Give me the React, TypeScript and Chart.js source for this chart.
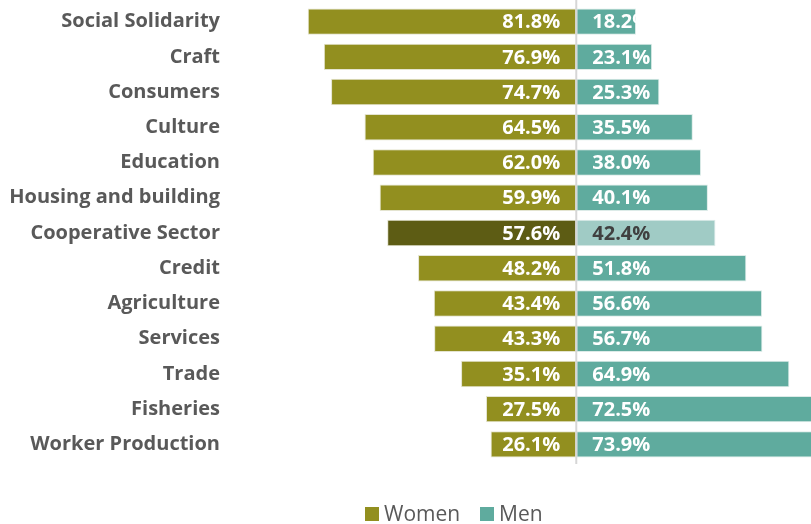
import React, { useEffect, useRef } from "react";
import { Chart, registerables } from "chart.js";

Chart.register(...registerables);

const categories = [
  "Social Solidarity",
  "Craft",
  "Consumers",
  "Culture",
  "Education",
  "Housing and building",
  "Cooperative Sector",
  "Credit",
  "Agriculture",
  "Services",
  "Trade",
  "Fisheries",
  "Worker Production",
];
const women = [81.8, 76.9, 74.7, 64.5, 62.0, 59.9, 57.6, 48.2, 43.4, 43.3, 35.1, 27.5, 26.1];
const men = [18.2, 23.1, 25.3, 35.5, 38.0, 40.1, 42.4, 51.8, 56.6, 56.7, 64.9, 72.5, 73.9];
const highlight = "Cooperative Sector";

const OLIVE = "#928F1F";
const OLIVE_DARK = "#5D5C14";
const TEAL = "#5FAB9E";
const TEAL_LIGHT = "#A0CBC5";
const LABEL_FONT = "'Open Sans', sans-serif";

const labelsPlugin = {
  id: "valueLabels",
  afterDatasetsDraw(chart: any) {
    const ctx = chart.ctx;
    const xs = chart.scales.x;
    const zero = xs.getPixelForValue(0);
    // center line
    ctx.save();
    ctx.strokeStyle = "#D6D6D6";
    ctx.lineWidth = 2;
    ctx.beginPath();
    ctx.moveTo(zero, 0);
    ctx.lineTo(zero, chart.chartArea.bottom + 2);
    ctx.stroke();
    ctx.restore();

    chart.data.datasets.forEach((ds: any, di: number) => {
      const meta = chart.getDatasetMeta(di);
      meta.data.forEach((bar: any, i: number) => {
        const v = Math.abs(ds.data[i]);
        const txt = v.toFixed(1) + "%";
        const left = Math.min(bar.x, bar.base);
        const right = Math.max(bar.x, bar.base);
        const top = bar.y - bar.height / 2;
        ctx.save();
        ctx.beginPath();
        ctx.rect(left, top, right - left, bar.height);
        ctx.clip();
        ctx.font = "bold 20px " + LABEL_FONT;
        ctx.textBaseline = "middle";
        const isHi = categories[i] === highlight;
        if (di === 0) {
          ctx.fillStyle = "#FFFFFF";
          ctx.textAlign = "right";
          ctx.fillText(txt, zero - 16, bar.y + 1);
        } else {
          ctx.fillStyle = isHi ? "#404040" : "#FFFFFF";
          ctx.textAlign = "left";
          ctx.fillText(txt, zero + 16, bar.y + 1);
        }
        ctx.restore();
      });
    });

    // legend
    ctx.save();
    ctx.font = "21px " + LABEL_FONT;
    ctx.textBaseline = "alphabetic";
    ctx.textAlign = "left";
    ctx.fillStyle = OLIVE;
    ctx.fillRect(365, 507, 14, 14);
    ctx.fillStyle = "#595959";
    ctx.fillText("Women", 384, 521);
    ctx.fillStyle = TEAL;
    ctx.fillRect(480, 507, 14, 14);
    ctx.fillStyle = "#595959";
    ctx.fillText("Men", 499, 521);
    ctx.restore();
  },
};

export default function App() {
  const ref = useRef<HTMLCanvasElement>(null);
  useEffect(() => {
    if (!ref.current) return;
    const chart = new Chart(ref.current, {
      type: "bar",
      data: {
        labels: categories,
        datasets: [
          {
            label: "Women",
            data: women.map((v) => -v),
            backgroundColor: categories.map((c) => (c === highlight ? OLIVE_DARK : OLIVE)),
            borderColor: "#E4E4D0",
            borderWidth: 1,
            borderSkipped: false,
            categoryPercentage: 1,
            barPercentage: 0.75,
          },
          {
            label: "Men",
            data: men,
            backgroundColor: categories.map((c) => (c === highlight ? TEAL_LIGHT : TEAL)),
            borderColor: "#DCEBE8",
            borderWidth: 1,
            borderSkipped: false,
            categoryPercentage: 1,
            barPercentage: 0.75,
          },
        ],
      },
      options: {
        indexAxis: "y",
        responsive: false,
        animation: false,
        layout: { padding: { top: 4, bottom: 62, left: 0, right: 0 } },
        plugins: { legend: { display: false }, tooltip: { enabled: false } },
        scales: {
          x: {
            stacked: true,
            display: false,
            min: -100,
            max: 71.5,
          },
          y: {
            stacked: true,
            grid: { display: false, drawTicks: false },
            border: { display: false },
            afterFit(scale: any) {
              scale.width = 248;
              scale.paddingTop = 0;
              scale.paddingBottom = 0;
            },
            ticks: {
              padding: 28,
              color: "#595959",
              font: { family: LABEL_FONT, weight: "bold", size: 20 },
            },
          },
        },
      },
      plugins: [labelsPlugin],
    } as any);
    return () => chart.destroy();
  }, []);
  return (
    <div style={{ position: "fixed", left: 0, top: 0, width: 811, height: 524, overflow: "hidden", background: "#fff" }}>
      <canvas ref={ref} width={811} height={524} style={{ display: "block" }} />
    </div>
  );
}
